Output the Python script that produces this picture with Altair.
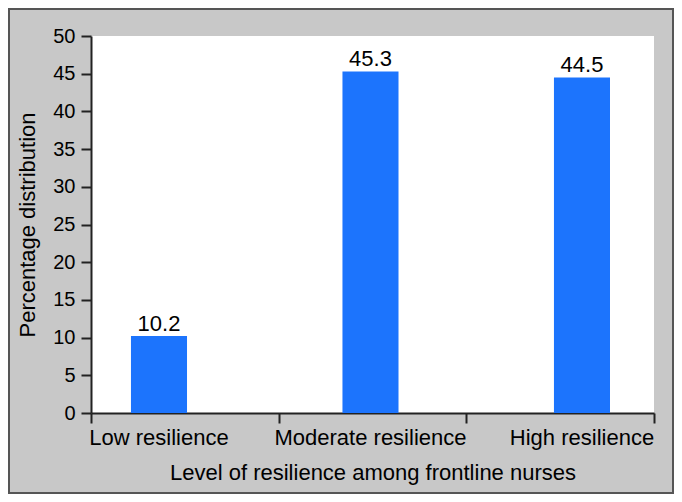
import altair as alt
import pandas as pd

categories = ["Low resilience", "Moderate resilience", "High resilience"]
values = [10.2, 45.3, 44.5]
labels = ["10.2", "45.3", "44.5"]
y_ticks = list(range(0, 55, 5))

df = pd.DataFrame({"cat": categories, "val": values, "lab": labels})

FONT = "Liberation Sans"
BLUE = "#1c74fd"

x_bars = alt.X(
    "cat:N", sort=categories,
    scale=alt.Scale(type="band", paddingInner=0.735, paddingOuter=0.1985, align=0.476),
    axis=alt.Axis(
        orient="bottom", title="Level of resilience among frontline nurses",
        labelAngle=0, labelFontSize=22, labelFont=FONT, labelColor="black", labelLimit=0,
        titleFontSize=22, titleFont=FONT, titleFontWeight="normal", titleColor="black",
        titlePadding=14, labelPadding=4, tickSize=10, tickColor="transparent",
        domainColor="#222222", domainWidth=2,
    ),
)

y_enc = alt.Y(
    "val:Q", scale=alt.Scale(domain=[0, 50], nice=False),
    axis=alt.Axis(
        title="Percentage distribution", values=y_ticks, grid=False,
        labelFontSize=20, labelFont=FONT, labelColor="black", labelOverlap=False,
        titleFontSize=22, titleFont=FONT, titleFontWeight="normal", titleColor="black",
        titlePadding=13, labelPadding=6, tickSize=10, tickWidth=2, tickColor="#222222",
        domainColor="#222222", domainWidth=2,
    ),
)

bars = alt.Chart(df).mark_bar(color=BLUE).encode(x=x_bars, y=y_enc)
texts = alt.Chart(df).mark_text(
    baseline="alphabetic", dy=-5, fontSize=22, font=FONT, color="black"
).encode(x=x_bars, y=y_enc, text="lab:N")

ticks_layer = alt.Chart(df).mark_point(opacity=0).encode(
    x=alt.X(
        "cat:N", sort=categories,
        scale=alt.Scale(type="band", paddingInner=0, paddingOuter=0),
        axis=alt.Axis(
            orient="bottom", title=None, labels=False, domain=False,
            ticks=True, tickBand="extent", tickSize=10, tickWidth=2, tickColor="#222222",
        ),
    )
)

frame = alt.Chart(alt.Data(values=[{"a": 1}])).mark_rect(
    fill="transparent", stroke="#555555", strokeWidth=2
).encode(
    x=alt.value(-82), x2=alt.value(582), y=alt.value(-27), y2=alt.value(457)
)

chart = alt.layer(bars + texts, ticks_layer, frame).resolve_scale(
    x="independent"
).properties(
    width=563, height=377,
    autosize=alt.AutoSizeParams(type="none"),
    padding={"left": 83, "top": 28, "right": 20, "bottom": 81},
    background="#c8c8c8",
).configure_view(fill="white", strokeWidth=0)

chart.save("out.html", embed_options={"renderer": "svg", "actions": False})
